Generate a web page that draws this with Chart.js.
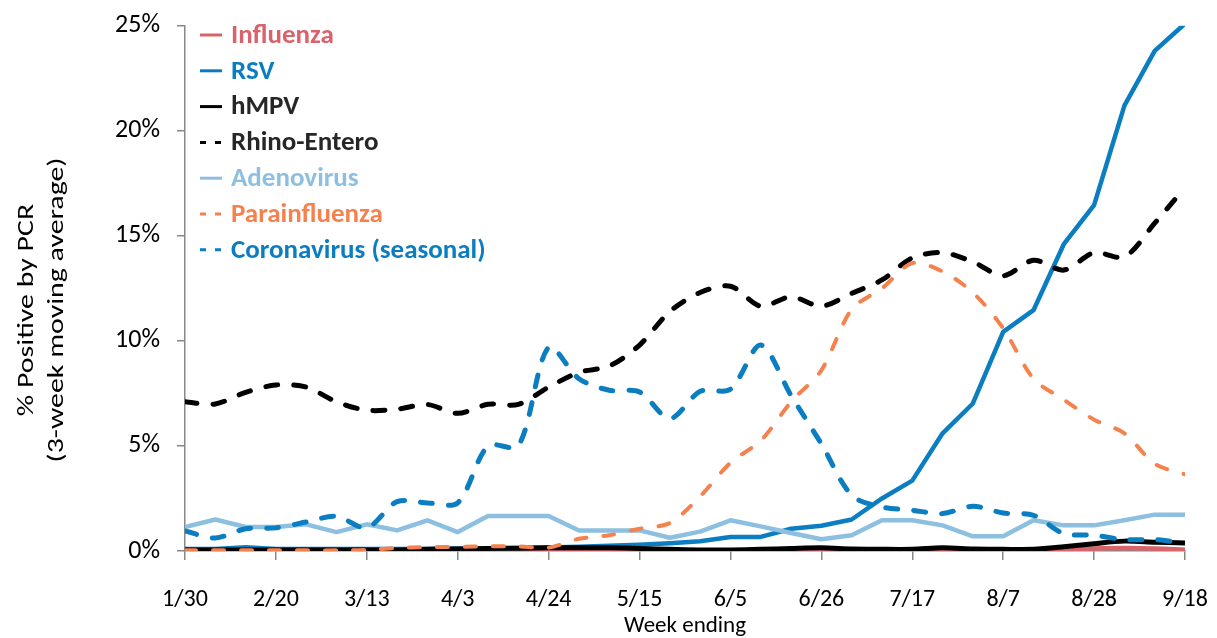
<!DOCTYPE html>
<html>
<head>
<meta charset="utf-8">
<script src="https://cdn.jsdelivr.net/npm/chart.js@4.4.1/dist/chart.umd.min.js"></script>
<style>
  body { margin: 0; background: #fff; }
  #wrap { width: 1217px; height: 638px; position: relative; }
</style>
</head>
<body>
<div id="wrap"><canvas id="grafico"></canvas></div>
<script>
// semanas (week ending)
var weeks = ['1/30','2/6','2/13','2/20','2/27','3/6','3/13','3/20','3/27','4/3','4/10','4/17',
  '4/24','5/1','5/8','5/15','5/22','5/29','6/5','6/12','6/19','6/26','7/3','7/10',
  '7/17','7/24','7/31','8/7','8/14','8/21','8/28','9/4','9/11','9/18'];

var influenza = [0.03,0.03,0.03,0.03,0.03,0.03,0.03,0.03,0.03,0.03,0.03,0.03,
  0.03,0.03,0.03,0.03,0.03,0.03,0.03,0.03,0.03,0.03,0.03,0.03,
  0.03,0.03,0.03,0.03,0.04,0.07,0.12,0.14,0.12,0.06];
var rsv = [0.1,0.1,0.18,0.1,0.1,0.1,0.1,0.1,0.1,0.12,0.12,0.14,
  0.17,0.2,0.25,0.3,0.37,0.46,0.67,0.67,1.06,1.2,1.5,2.5,
  3.35,5.6,7.02,10.43,11.46,14.6,16.46,21.2,23.8,25.1];
var hmpv = [0.05,0.05,0.05,0.05,0.05,0.05,0.05,0.05,0.08,0.1,0.12,0.13,
  0.15,0.15,0.15,0.12,0.08,0.05,0.05,0.08,0.12,0.15,0.1,0.08,
  0.08,0.15,0.1,0.08,0.08,0.2,0.35,0.47,0.42,0.38];
var rhino = [7.1,7.0,7.55,7.9,7.8,7.1,6.7,6.75,6.97,6.55,6.98,6.98,
  7.8,8.5,8.8,9.8,11.4,12.3,12.6,11.65,12.1,11.65,12.26,12.9,
  13.95,14.2,13.76,13.1,13.84,13.37,14.2,14.0,15.6,17.3];
var adeno = [1.14,1.5,1.14,1.14,1.27,0.9,1.27,0.98,1.46,0.9,1.67,1.67,
  1.67,0.98,0.98,0.98,0.63,0.92,1.46,1.17,0.86,0.56,0.75,1.46,
  1.46,1.22,0.7,0.7,1.46,1.22,1.22,1.46,1.73,1.73];
var para = [0.03,0.03,0.03,0.03,0.03,0.03,0.05,0.15,0.18,0.2,0.22,0.22,
  0.16,0.58,0.75,1.06,1.33,2.6,4.2,5.25,7.1,8.6,11.5,12.5,
  13.7,13.3,12.3,10.6,8.2,7.2,6.25,5.6,4.15,3.65];
var corona = [0.95,0.62,1.06,1.1,1.38,1.65,1.1,2.35,2.29,2.29,5.0,5.0,
  9.7,8.2,7.65,7.57,6.3,7.6,7.7,9.8,7.4,5.1,2.65,2.1,
  1.94,1.78,2.13,1.81,1.7,0.83,0.75,0.54,0.54,0.38];

var seriesNames = ['Influenza','RSV','hMPV','Rhino-Entero','Adenovirus','Parainfluenza','Coronavirus (seasonal)'];
var seriesData = [influenza, rsv, hmpv, rhino, adeno, para, corona];
var lineColors = ['#d9636b','#0b7dc1','#000000','#000000','#8dc0e0','#f5824e','#0b7dc1'];
var textColors = ['#d9636b','#0b7dc1','#262626','#262626','#8dc0e0','#f5824e','#0b7dc1'];
var dashed = [false,false,false,true,false,true,true];
var yTicks = [0,5,10,15,20,25];

var fuente = 'Carlito, Lato, sans-serif';
Chart.defaults.font.family = fuente;
Chart.defaults.color = '#000';

function toPoints(arr) {
  return arr.map(function (v, i) { return { x: i, y: v }; });
}

var datasets = seriesData.map(function (arr, k) {
  return {
    label: seriesNames[k],
    data: toPoints(arr),
    borderColor: lineColors[k],
    backgroundColor: lineColors[k],
    borderWidth: dashed[k] ? (k === 5 ? 4 : 5) : (k === 2 ? 5 : 4.5),
    borderDash: dashed[k] ? (k === 5 ? [11, 17] : [12, 16]) : [],
    borderCapStyle: dashed[k] ? 'round' : 'butt',
    borderJoinStyle: 'round',
    pointRadius: 0,
    tension: (k === 1 || k === 4) ? 0 : 0.3,
    order: seriesData.length - k
  };
});

// leyenda dentro del area del grafico
var legendPlugin = {
  id: 'cornerLegend',
  afterDraw: function (chart) {
    var ctx = chart.ctx;
    ctx.save();
    ctx.font = 'bold 27px ' + fuente;
    ctx.textBaseline = 'middle';
    ctx.textAlign = 'left';
    seriesNames.forEach(function (name, i) {
      var y = 35 + i * 35.8;
      ctx.strokeStyle = lineColors[i];
      ctx.lineWidth = 3;
      ctx.beginPath();
      if (dashed[i]) {
        ctx.moveTo(200, y); ctx.lineTo(206, y);
        ctx.moveTo(215, y); ctx.lineTo(221, y);
      } else {
        ctx.moveTo(200, y); ctx.lineTo(222, y);
      }
      ctx.stroke();
      ctx.fillStyle = textColors[i];
      ctx.fillText(name, 231, y + 1);
    });
    ctx.restore();
  }
};

// titulo del eje Y en dos lineas
var yTitlePlugin = {
  id: 'yTitle',
  afterDraw: function (chart) {
    var ctx = chart.ctx;
    ctx.save();
    ctx.font = '23px ' + fuente;
    ctx.fillStyle = '#000';
    ctx.textAlign = 'center';
    ctx.textBaseline = 'middle';
    var lines = ['% Positive by PCR', '(3-week moving average)'];
    var xs = [27, 57];
    lines.forEach(function (t, i) {
      ctx.save();
      ctx.translate(xs[i], 310);
      ctx.rotate(-Math.PI / 2);
      ctx.scale(1.3, 1);
      ctx.fillText(t, 0, 0);
      ctx.restore();
    });
    ctx.restore();
  }
};

var ctx = document.getElementById('grafico').getContext('2d');
window.myChart = new Chart(ctx, {
  type: 'line',
  data: { datasets: datasets },
  plugins: [legendPlugin, yTitlePlugin],
  options: {
    responsive: true,
    maintainAspectRatio: false,
    animation: false,
    layout: { padding: { top: 25.7, right: 32, left: 0, bottom: 0 } },
    plugins: {
      legend: { display: false },
      tooltip: { enabled: false }
    },
    scales: {
      x: {
        type: 'linear',
        min: 0,
        max: weeks.length - 1,
        afterFit: function (scale) {
          scale.height = 87;
          scale.paddingLeft = 0;
          scale.paddingRight = 0;
        },
        border: { display: true, color: '#888', width: 1.5 },
        grid: { drawOnChartArea: false, drawTicks: true, tickLength: 9, color: '#888', lineWidth: 1.5 },
        ticks: {
          stepSize: 3,
          padding: 26,
          maxRotation: 0,
          font: { size: 24 },
          callback: function (v) { return weeks[v]; }
        },
        title: {
          display: true,
          text: 'Week ending',
          font: { size: 23 },
          padding: { top: 0, bottom: -2 }
        }
      },
      y: {
        min: 0,
        max: 25,
        afterFit: function (scale) {
          scale.width = 185;
          scale.paddingTop = 0;
          scale.paddingBottom = 0;
        },
        afterBuildTicks: function (scale) {
          scale.ticks = yTicks.map(function (v) { return { value: v }; });
        },
        border: { display: true, color: '#888', width: 1.5 },
        grid: { drawOnChartArea: false, drawTicks: true, tickLength: 8, color: '#888', lineWidth: 1.5 },
        ticks: {
          padding: 17,
          font: { size: 26 },
          callback: function (v) { return v + '%'; }
        }
      }
    }
  }
});
</script>
</body>
</html>
